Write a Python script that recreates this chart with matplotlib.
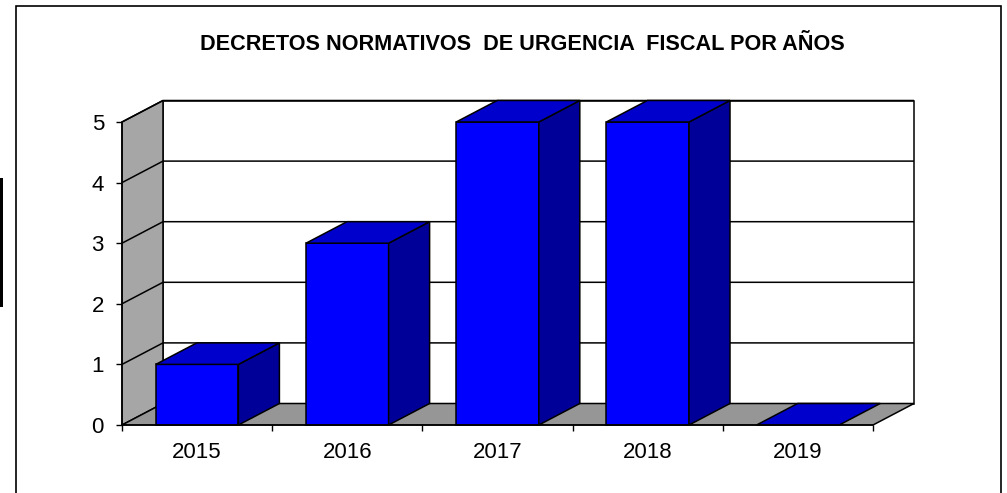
import matplotlib
matplotlib.use('Agg')
import matplotlib.pyplot as plt
from matplotlib.patches import Polygon, Rectangle
import numpy as np

# ---- data ----
years = ['2015', '2016', '2017', '2018', '2019']
decretos = [1, 3, 5, 5, 0]
y_ticks = [0, 1, 2, 3, 4, 5]
title = 'DECRETOS NORMATIVOS  DE URGENCIA  FISCAL POR AÑOS'

# ---- style ----
plt.rcParams['font.family'] = ['Liberation Sans', 'DejaVu Sans']
FRONT = '#0000ff'
TOP = '#0000cc'
SIDE = '#000099'
SIDEWALL = '#a6a6a6'
FLOOR = '#969696'
LW = 1.1
BAR_W = 0.55

W, H = 1007, 493
fig = plt.figure(figsize=(W / 100, H / 100), dpi=100)

ax = fig.add_axes([122 / W, (H - 425) / H, 751 / W, 303 / H])
n = len(years)
ymax = max(y_ticks)
ax.set_xlim(0, n)
ax.set_ylim(0, ymax)
ax.patch.set_visible(False)

# depth offset (pixels) converted to data units through the axes transform
p0 = ax.transData.transform((0, 0))
dpt = ax.transData.inverted().transform(p0 + np.array([41.0, 21.5]))
DX, DY = dpt[0], dpt[1]

# back wall
ax.add_patch(Polygon([(DX, DY), (n + DX, DY), (n + DX, ymax + DY), (DX, ymax + DY)],
                     closed=True, facecolor='white', edgecolor='black', lw=LW,
                     clip_on=False, zorder=1))
# side wall
ax.add_patch(Polygon([(0, 0), (DX, DY), (DX, ymax + DY), (0, ymax)],
                     closed=True, facecolor=SIDEWALL, edgecolor='black', lw=LW,
                     clip_on=False, zorder=2))
# floor
ax.add_patch(Polygon([(0, 0), (n, 0), (n + DX, DY), (DX, DY)],
                     closed=True, facecolor=FLOOR, edgecolor='black', lw=LW,
                     clip_on=False, zorder=2))
# gridlines
for v in y_ticks[1:]:
    ax.plot([0, DX, n + DX], [v, v + DY, v + DY], color='black', lw=LW,
            clip_on=False, zorder=3, solid_capstyle='butt')

# bars
for i, val in enumerate(decretos):
    x0 = i + 0.5 - BAR_W / 2
    x1 = i + 0.5 + BAR_W / 2
    z = 5
    if val > 0:
        ax.add_patch(Polygon([(x0, 0), (x1, 0), (x1, val), (x0, val)], closed=True,
                             facecolor=FRONT, edgecolor='black', lw=LW,
                             clip_on=False, zorder=z))
        ax.add_patch(Polygon([(x1, 0), (x1 + DX, DY), (x1 + DX, val + DY), (x1, val)],
                             closed=True, facecolor=SIDE, edgecolor='black', lw=LW,
                             clip_on=False, zorder=z))
    ax.add_patch(Polygon([(x0, val), (x1, val), (x1 + DX, val + DY), (x0 + DX, val + DY)],
                         closed=True, facecolor=TOP, edgecolor='black', lw=LW,
                         clip_on=False, zorder=z))

# axes / ticks
for s in ['top', 'right']:
    ax.spines[s].set_visible(False)
for s in ['left', 'bottom']:
    ax.spines[s].set_linewidth(LW)
    ax.spines[s].set_zorder(6)
ax.set_yticks(y_ticks)
ax.set_yticklabels([str(v) for v in y_ticks])
ax.tick_params(axis='y', length=4, width=1, pad=9, labelsize=16)
ax.set_xticks(range(n + 1))
ax.set_xticklabels([''] * (n + 1))
ax.set_xticks([i + 0.5 for i in range(n)], minor=True)
ax.set_xticklabels(years, minor=True)
ax.tick_params(axis='x', which='major', length=4.5, width=1)
ax.tick_params(axis='x', which='minor', length=0, pad=12, labelsize=16)

# title
fig.text(522 / W, 1 - 45 / H, title, ha='center', va='center',
         fontsize=15.6, fontweight='bold')

# chart border and left artifact
fig.patches.append(Rectangle((16 / W, -0.1), 985 / W, (H - 6) / H + 0.1,
                             transform=fig.transFigure, fill=False,
                             edgecolor='black', lw=1.2))
fig.patches.append(Rectangle((0, (H - 307) / H), 3 / W, 129 / H,
                             transform=fig.transFigure, facecolor='black',
                             edgecolor='none'))

fig.savefig('out.png', dpi=100)
